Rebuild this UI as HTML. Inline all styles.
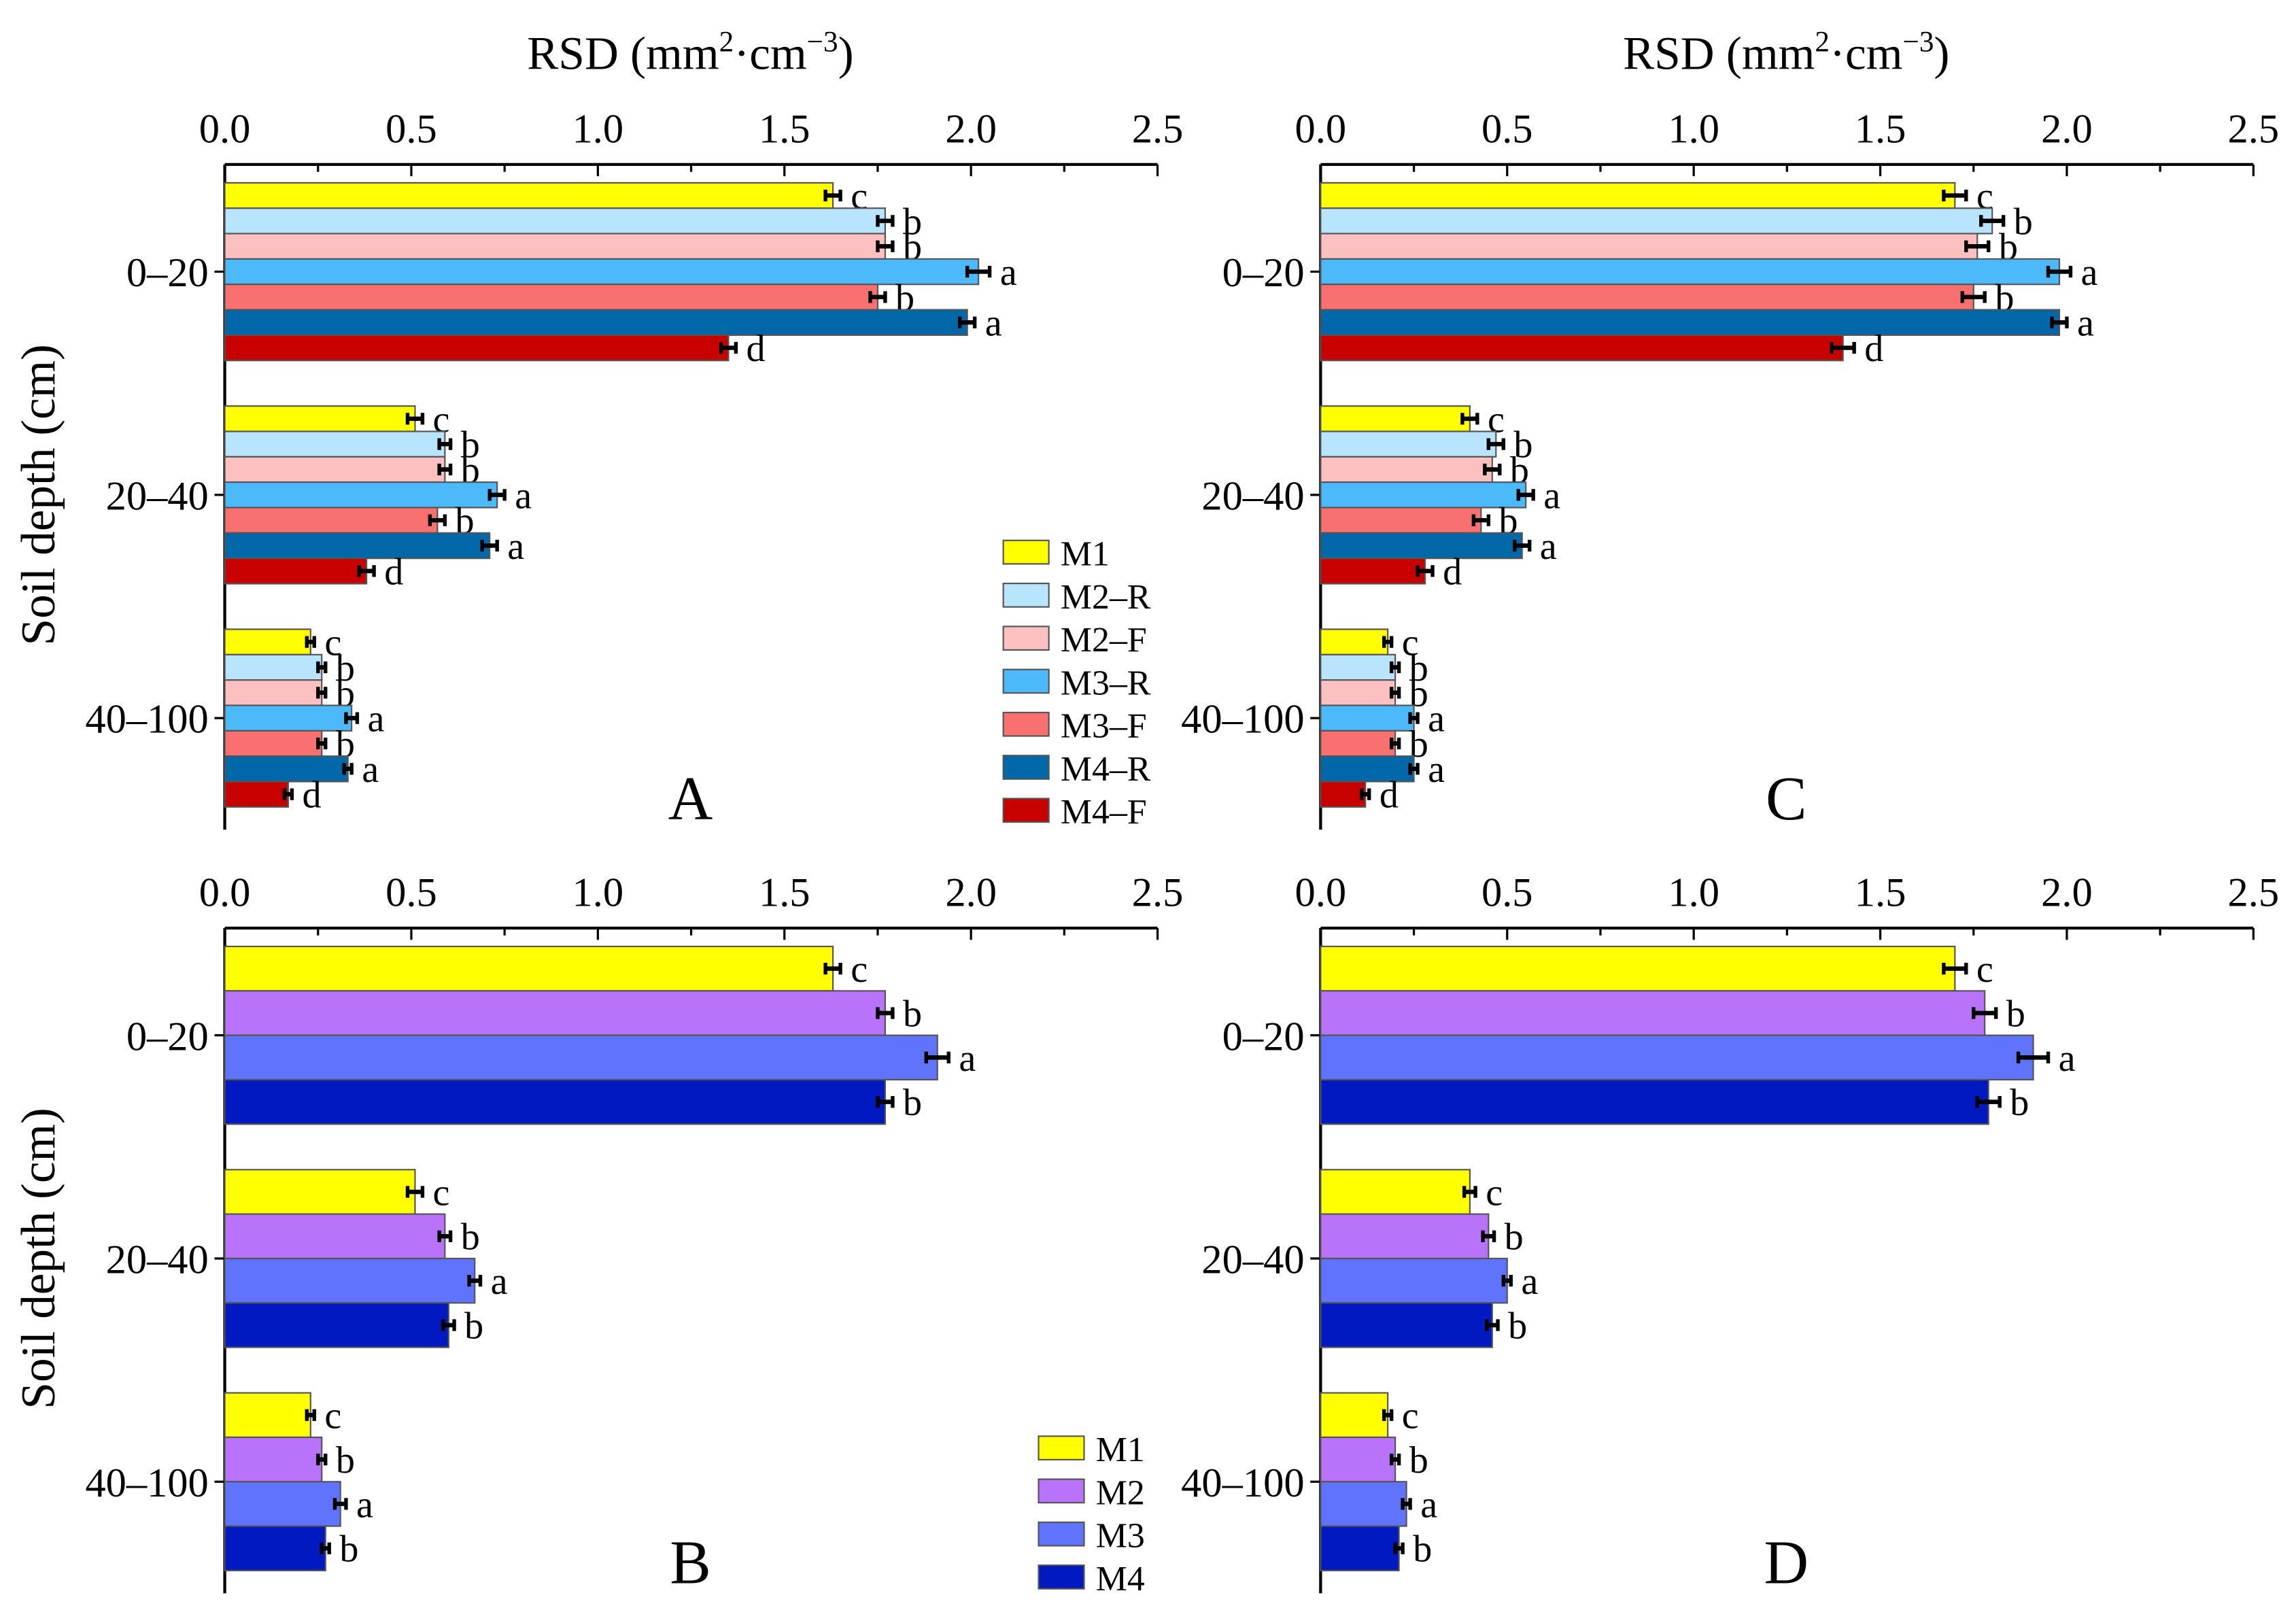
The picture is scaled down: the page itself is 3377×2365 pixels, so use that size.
<!DOCTYPE html>
<html><head><meta charset="utf-8"><style>
html,body{margin:0;padding:0;background:#fff;}
svg{display:block;font-family:"Liberation Serif","Times New Roman",serif;}
svg text{font-family:"Liberation Serif","Times New Roman",serif;fill:#000;}
</style></head><body>
<svg id="chart" width="3377" height="2365" viewBox="0 0 1563 1095" preserveAspectRatio="none" font-family="Liberation Serif, serif" xmlns="http://www.w3.org/2000/svg"></svg>
<script>
const depths = ["0–20","20–40","40–100"];
const seriesA = ["M1","M2–R","M2–F","M3–R","M3–F","M4–R","M4–F"];
const colorsA = ["#ffff00","#b8e4fd","#fcc0c0","#4cb9fb","#f97070","#0068a8","#c80000"];
const seriesB = ["M1","M2","M3","M4"];
const colorsB = ["#ffff00","#b873fa","#5f73fd","#0019c0"];
const xTicks = ["0.0","0.5","1.0","1.5","2.0","2.5"];
const valsA = [[1.63,1.77,1.77,2.02,1.75,1.99,1.35],[0.51,0.59,0.59,0.73,0.57,0.71,0.38],[0.23,0.26,0.26,0.34,0.26,0.33,0.17]];
const errA = [[0.02,0.02,0.02,0.03,0.02,0.02,0.02],[0.02,0.015,0.015,0.02,0.02,0.02,0.02],[0.01,0.01,0.01,0.015,0.01,0.01,0.01]];
const letA = [["c","b","b","a","b","a","d"],["c","b","b","a","b","a","d"],["c","b","b","a","b","a","d"]];
const valsC = [[1.70,1.80,1.76,1.98,1.75,1.98,1.40],[0.40,0.47,0.46,0.55,0.43,0.54,0.28],[0.18,0.20,0.20,0.25,0.20,0.25,0.12]];
const errC = [[0.03,0.03,0.03,0.03,0.03,0.02,0.03],[0.02,0.02,0.02,0.02,0.02,0.02,0.02],[0.01,0.01,0.01,0.01,0.01,0.01,0.01]];
const valsB = [[1.63,1.77,1.91,1.77],[0.51,0.59,0.67,0.60],[0.23,0.26,0.31,0.27]];
const errB = [[0.02,0.02,0.03,0.02],[0.02,0.015,0.015,0.015],[0.01,0.01,0.015,0.01]];
const letB = [["c","b","a","b"],["c","b","a","b"],["c","b","a","b"]];
const valsD = [[1.70,1.78,1.91,1.79],[0.40,0.45,0.50,0.46],[0.18,0.20,0.23,0.21]];
const errD = [[0.03,0.03,0.04,0.03],[0.015,0.015,0.01,0.015],[0.01,0.01,0.01,0.01]];

const svg = document.getElementById('chart');
const NS = "http://www.w3.org/2000/svg";
const FF = "Liberation Serif, serif";
function mk(tag, attrs, parent){const e=document.createElementNS(NS,tag);for(const k in attrs)e.setAttribute(k,attrs[k]);if(tag==='text')e.setAttribute('font-family',FF);(parent||svg).appendChild(e);return e;}

function panel(opt){
  const g = mk('g',{});
  
  
  const x0=opt.x0, x1=opt.x0+635, yTop=opt.yTop, yBot=opt.yTop+453;
  const xs = v => x0 + v/2.5*(x1-x0);
  const ys = i => opt.yTop + 73 + i*152;
  const ax = mk('line',{x1:x0,y1:yTop,x2:x1,y2:yTop,stroke:'#000','stroke-width':2},g);
  
  
  const ay = mk('line',{x1:x0,y1:yTop,x2:x0,y2:yBot,stroke:'#000','stroke-width':2},g);
  
  
  for(let i=0;i<=10;i++){
    const v=i*0.25, major=i%2===0;
    mk('line',{x1:xs(v),y1:yTop,x2:xs(v),y2:yTop+(major?8:5),stroke:'#000','stroke-width':1.5},g);
  }
  xTicks.forEach(t=>{
    const tx = mk('text',{x:xs(parseFloat(t)),y:yTop-15,'font-size':28,'text-anchor':'middle'},g);
    tx.textContent=t;
    
    
  });
  depths.forEach((d,i)=>{
    mk('line',{x1:x0-7,y1:ys(i),x2:x0,y2:ys(i),stroke:'#000','stroke-width':1.5},g);
    const tx = mk('text',{x:x0-11,y:ys(i)+10,'font-size':28,'text-anchor':'end'},g);
    tx.textContent=d;
    
    
  });
  const n = opt.series.length, bh = 121/n;
  depths.forEach((d,i)=>{
    for(let j=0;j<n;j++){
      const v=opt.vals[i][j], e=opt.err[i][j];
      const y=ys(i)-60.5+j*bh;
      const r = mk('rect',{x:x0,y:y,width:xs(v)-x0,height:bh,fill:opt.colors[j],stroke:'#555','stroke-width':1},g);
      
      
      const cy=y+bh/2;
      mk('line',{x1:xs(v-e),y1:cy,x2:xs(v+e),y2:cy,stroke:'#000','stroke-width':3},g);
      mk('line',{x1:xs(v-e),y1:cy-4,x2:xs(v-e),y2:cy+4,stroke:'#000','stroke-width':2.5},g);
      mk('line',{x1:xs(v+e),y1:cy-4,x2:xs(v+e),y2:cy+4,stroke:'#000','stroke-width':2.5},g);
      const lt = mk('text',{x:xs(v+e)+7,y:cy+9,'font-size':26},g);
      lt.textContent=opt.letters[i][j];
      
      
    }
  });
  const pl = mk('text',{x:x0+317,y:yTop+446,'font-size':42,'text-anchor':'middle'},g);
  pl.textContent=opt.label;
  
  
  if(opt.title){
    const tt = mk('text',{x:x0+317,y:yTop-65,'font-size':32,'text-anchor':'middle'},g);
    tt.innerHTML='RSD (mm<tspan dy="-12" font-size="20">2</tspan><tspan dy="12">·cm</tspan><tspan dy="-12" font-size="20">−3</tspan><tspan dy="12">)</tspan>';
    
    
  }
  if(opt.ytitle){
    const yt = mk('text',{x:0,y:0,'font-size':33,'text-anchor':'middle',transform:`translate(37,${yTop+225}) rotate(-90)`},g);
    yt.textContent='Soil depth (cm)';
    
    
  }
  if(opt.legend){
    const lg = mk('g',{},g);
    
    
    opt.series.forEach((s,j)=>{
      const ly = opt.legend.y + j*29.3;
      const e = mk('g',{},lg);
      
      
      mk('rect',{x:opt.legend.x,y:ly-8,width:31,height:16,fill:opt.colors[j],stroke:'#555','stroke-width':1},e);
      const t = mk('text',{x:opt.legend.x+39,y:ly+9,'font-size':24},e);
      t.textContent=s;
    });
  }
}
panel({name:'panel-a',x0:153,yTop:112,series:seriesA,colors:colorsA,vals:valsA,err:errA,letters:letA,label:'A',title:true,ytitle:true,legend:{x:683,y:376}});
panel({name:'panel-c',x0:899,yTop:112,series:seriesA,colors:colorsA,vals:valsC,err:errC,letters:letA,label:'C',title:true,ytitle:false});
panel({name:'panel-b',x0:153,yTop:632,series:seriesB,colors:colorsB,vals:valsB,err:errB,letters:letB,label:'B',title:false,ytitle:true,legend:{x:707,y:986}});
panel({name:'panel-d',x0:899,yTop:632,series:seriesB,colors:colorsB,vals:valsD,err:errD,letters:letB,label:'D',title:false,ytitle:false});
</script>
</body></html>
